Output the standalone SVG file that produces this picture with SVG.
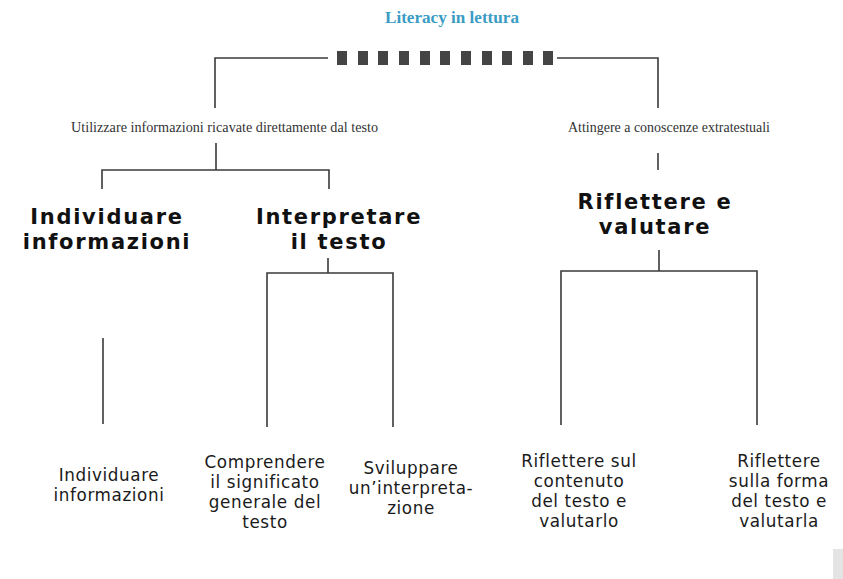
<svg xmlns="http://www.w3.org/2000/svg" width="843" height="579" viewBox="0 0 843 579">
<style>
.ln{stroke:#3a3a3a;stroke-width:1.6;fill:none;stroke-linecap:butt}
.title{font-family:"Liberation Serif",serif;font-size:17px;fill:#3a9cc4;font-weight:bold}
.ser{font-family:"Liberation Serif",serif;font-size:15px;fill:#333}
.big{font-family:"DejaVu Sans",sans-serif;font-size:21px;font-weight:bold;fill:#111;letter-spacing:1.7px}
.sm{font-family:"DejaVu Sans",sans-serif;font-size:16.8px;fill:#1a1a1a;letter-spacing:0.6px}
.blk{fill:#444}
</style>
<rect width="843" height="579" fill="#fff"/>
<g id="title">
<text class="title" x="452" y="23" text-anchor="middle" textLength="134" lengthAdjust="spacingAndGlyphs">Literacy in lettura</text>
<g class="blk">
<rect x="337" y="51" width="10" height="14"/><rect x="358" y="51" width="10" height="14"/><rect x="378" y="51" width="10" height="14"/><rect x="399" y="51" width="10" height="14"/><rect x="420" y="51" width="10" height="14"/><rect x="440" y="51" width="10" height="14"/><rect x="461" y="51" width="10" height="14"/><rect x="482" y="51" width="10" height="14"/><rect x="502" y="51" width="10" height="14"/><rect x="523" y="51" width="10" height="14"/><rect x="543" y="51" width="10" height="14"/>
</g>
</g>
<g id="connectors">
<path class="ln" d="M328 58H215V108"/>
<path class="ln" d="M557 58H658V108"/>
<path class="ln" d="M216 143V170M102 189V170H329V189"/>
<path class="ln" d="M658 153V170"/>
<path class="ln" d="M328 258V273M267 427V273H393V427"/>
<path class="ln" d="M659 250V271M561 425V271H757V425"/>
<path class="ln" d="M103 338V424"/>
</g>
<g id="n-utilizzare">
<text class="ser" x="71" y="132" textLength="307" lengthAdjust="spacingAndGlyphs">Utilizzare informazioni ricavate direttamente dal testo</text>
</g>
<g id="n-attingere">
<text class="ser" x="568" y="132" textLength="202" lengthAdjust="spacingAndGlyphs">Attingere a conoscenze extratestuali</text>
</g>
<g id="n-individuare">
<text class="big" text-anchor="middle"><tspan x="107" y="224">Individuare</tspan><tspan x="107" y="249">informazioni</tspan></text>
</g>
<g id="n-interpretare">
<text class="big" text-anchor="middle"><tspan x="339" y="224">Interpretare</tspan><tspan x="339" y="249">il testo</tspan></text>
</g>
<g id="n-riflettere">
<text class="big" text-anchor="middle"><tspan x="655" y="209">Riflettere e</tspan><tspan x="655" y="234">valutare</tspan></text>
</g>
<g id="l-individuare">
<text class="sm" text-anchor="middle"><tspan x="109" y="481">Individuare</tspan><tspan x="109" y="501">informazioni</tspan></text>
</g>
<g id="l-comprendere">
<text class="sm" text-anchor="middle"><tspan x="265" y="468">Comprendere</tspan><tspan x="265" y="488">il significato</tspan><tspan x="265" y="508">generale del</tspan><tspan x="265" y="528">testo</tspan></text>
</g>
<g id="l-sviluppare">
<text class="sm" text-anchor="middle"><tspan x="411" y="474">Sviluppare</tspan><tspan x="411" y="494">un’interpreta-</tspan><tspan x="411" y="514">zione</tspan></text>
</g>
<g id="l-contenuto">
<text class="sm" text-anchor="middle"><tspan x="579" y="467">Riflettere sul</tspan><tspan x="579" y="487">contenuto</tspan><tspan x="579" y="507">del testo e</tspan><tspan x="579" y="527">valutarlo</tspan></text>
</g>
<g id="l-forma">
<text class="sm" text-anchor="middle"><tspan x="779" y="467">Riflettere</tspan><tspan x="779" y="487">sulla forma</tspan><tspan x="779" y="507">del testo e</tspan><tspan x="779" y="527">valutarla</tspan></text>
</g>
<rect x="833" y="549" width="10" height="30" fill="#e4e4e4"/>
</svg>
